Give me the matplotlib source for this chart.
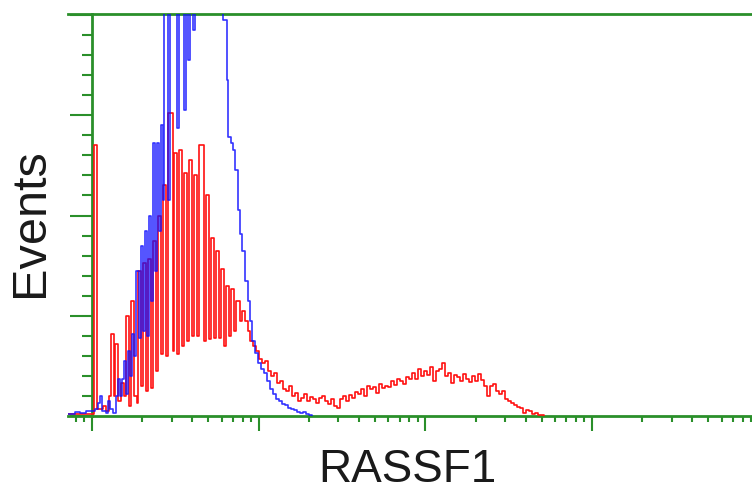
import numpy as np
import matplotlib
matplotlib.use("Agg")
import matplotlib.pyplot as plt
from matplotlib.ticker import MultipleLocator, LogLocator, NullFormatter

# log10 fluorescence (RASSF1) and events per bin, step histograms (level starts)
red_log = [-0.144, 0.012, 0.030, 0.066, 0.084, 0.102, 0.114, 0.132, 0.138, 0.156,
           0.174, 0.192, 0.204, 0.222, 0.234, 0.252, 0.270, 0.276, 0.294, 0.306,
           0.324, 0.336, 0.354, 0.366, 0.384, 0.396, 0.414, 0.426, 0.444, 0.456,
           0.486, 0.492, 0.510, 0.522, 0.540, 0.552, 0.570, 0.582, 0.600, 0.612,
           0.630, 0.642, 0.672, 0.684, 0.702, 0.714, 0.732, 0.744, 0.762, 0.774,
           0.792, 0.804, 0.822, 0.834, 0.852, 0.864, 0.888, 0.900, 0.918, 0.936,
           0.948, 0.966, 0.984, 1.002, 1.020, 1.038, 1.056, 1.074, 1.092, 1.110,
           1.128, 1.146, 1.164, 1.182, 1.200, 1.218, 1.236, 1.254, 1.272, 1.290,
           1.308, 1.326, 1.344, 1.362, 1.380, 1.398, 1.416, 1.434, 1.452, 1.470,
           1.488, 1.506, 1.524, 1.542, 1.560, 1.578, 1.596, 1.614, 1.632, 1.650,
           1.668, 1.686, 1.704, 1.722, 1.740, 1.758, 1.776, 1.794, 1.812, 1.830,
           1.848, 1.866, 1.884, 1.902, 1.920, 1.938, 1.956, 1.974, 1.992, 2.010,
           2.028, 2.046, 2.064, 2.082, 2.100, 2.118, 2.136, 2.154, 2.172, 2.190,
           2.208, 2.226, 2.244, 2.262, 2.280, 2.298, 2.316, 2.334, 2.352, 2.370,
           2.388, 2.406, 2.424, 2.442, 2.460, 2.478, 2.496, 2.514, 2.532, 2.550,
           2.568, 2.586, 2.604, 2.622, 2.640, 2.658, 2.676, 2.694, 2.712]
red_events = [2, 270, 7, 10, 5, 20, 82, 20, 72, 15,
              33, 20, 100, 10, 115, 20, 13, 145, 30, 153,
              25, 157, 28, 175, 45, 200, 62, 230, 60, 302,
              65, 262, 62, 265, 70, 242, 75, 255, 80, 240,
              80, 270, 75, 220, 77, 178, 78, 165, 78, 147,
              70, 130, 80, 127, 85, 115, 95, 105, 95, 85,
              75, 70, 65, 57, 53, 55, 45, 40, 43, 33,
              35, 27, 25, 30, 20, 23, 15, 18, 22, 15,
              19, 17, 13, 18, 20, 15, 12, 17, 10, 8,
              17, 20, 15, 21, 18, 24, 22, 27, 20, 30,
              27, 29, 23, 32, 28, 30, 29, 35, 31, 37,
              35, 32, 39, 37, 43, 37, 47, 40, 45, 41,
              49, 35, 45, 47, 53, 40, 43, 33, 41, 39,
              35, 42, 37, 34, 40, 35, 42, 36, 30, 20,
              30, 32, 25, 22, 25, 17, 15, 13, 11, 9,
              8, 3, 6, 5, 2, 3, 1, 1, 0]

blue_log = [-0.144, -0.102, -0.072, -0.036, 0.018, 0.036, 0.048, 0.060, 0.084, 0.096,
            0.108, 0.126, 0.144, 0.156, 0.168, 0.180, 0.192, 0.204, 0.216, 0.228,
            0.240, 0.252, 0.264, 0.282, 0.294, 0.306, 0.318, 0.330, 0.342, 0.354,
            0.366, 0.378, 0.390, 0.402, 0.414, 0.426, 0.432, 0.456, 0.468, 0.510,
            0.522, 0.552, 0.564, 0.576, 0.588, 0.606, 0.618, 0.786, 0.810, 0.816,
            0.834, 0.846, 0.858, 0.876, 0.888, 0.900, 0.918, 0.936, 0.948, 0.960,
            0.978, 0.996, 1.014, 1.032, 1.050, 1.068, 1.086, 1.104, 1.122, 1.140,
            1.158, 1.176, 1.194, 1.212, 1.230, 1.248, 1.266, 1.284, 1.302, 1.320]
blue_events = [2, 4, 3, 5, 7, 13, 20, 5, 3, 15,
               7, 3, 20, 37, 20, 37, 55, 22, 65, 40,
               82, 60, 145, 78, 170, 85, 185, 80, 200, 115,
               272, 145, 272, 185, 290, 215, 420, 215, 420, 287,
               420, 305, 420, 355, 420, 385, 420, 395, 335, 278,
               272, 265, 245, 205, 182, 165, 135, 115, 95, 75,
               63, 53, 47, 43, 35, 27, 22, 17, 15, 12,
               11, 8, 7, 6, 4, 3, 4, 2, 1, 0]

x_decades = [1, 10, 100, 1000]
green = '#2a8f2a'

fig = plt.figure(figsize=(7.52, 4.98), dpi=100)
ax = fig.add_axes([68 / 752, 1 - 416 / 498, 1 - 68 / 752, (416 - 14) / 498])

ax.plot(10 ** np.array(red_log), red_events, drawstyle='steps-post',
        color='#ff1010', lw=1.2, zorder=3)
ax.plot(10 ** np.array(blue_log), blue_events, drawstyle='steps-post',
        color='#1010ff', lw=1.2, alpha=0.85, zorder=4)

ax.set_xscale('log')
ax.set_xlim(10 ** -0.144, 10 ** 3.96)
ax.set_ylim(0, 401)

for s in ['left', 'bottom', 'top']:
    ax.spines[s].set_color(green)
    ax.spines[s].set_linewidth(2.0)
ax.spines['right'].set_visible(False)
ax.spines['left'].set_position(('data', 1.0))

ax.set_xticks(x_decades)
ax.xaxis.set_minor_locator(LogLocator(base=10, subs=range(2, 10), numticks=50))
ax.xaxis.set_minor_formatter(NullFormatter())
ax.yaxis.set_major_locator(MultipleLocator(100))
ax.yaxis.set_minor_locator(MultipleLocator(20))
ax.tick_params(axis='x', which='major', direction='out', length=11, width=1.5,
               color=green, labelbottom=False)
ax.tick_params(axis='x', which='minor', direction='out', length=4.5, width=1.5,
               color=green)
ax.tick_params(axis='y', which='major', direction='out', length=16, width=1.5,
               color=green, labelleft=False)
ax.tick_params(axis='y', which='minor', direction='out', length=7, width=1.5,
               color=green)

fig.text(407 / 752, 1 - 470 / 498, 'RASSF1', fontsize=33, family='Liberation Sans',
         ha='center', va='center', color='#1a1a1a')
fig.text(31 / 752, 1 - 223 / 498, 'Events', fontsize=35, family='Liberation Sans',
         ha='center', va='center', rotation=90, color='#1a1a1a')

fig.savefig('out.png', dpi=100)
